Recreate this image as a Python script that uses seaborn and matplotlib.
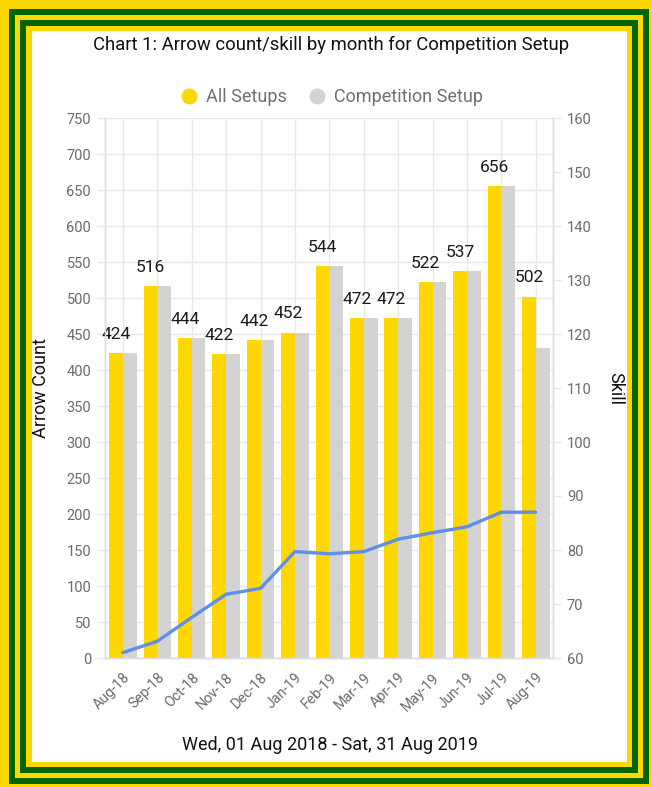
import pandas as pd
import matplotlib.pyplot as plt
import seaborn as sns
from matplotlib.lines import Line2D
from matplotlib.patches import Rectangle

months = ["Aug-18", "Sep-18", "Oct-18", "Nov-18", "Dec-18", "Jan-19", "Feb-19",
          "Mar-19", "Apr-19", "May-19", "Jun-19", "Jul-19", "Aug-19"]
all_setups = [424, 516, 444, 422, 442, 452, 544, 472, 472, 522, 537, 656, 502]
competition = [424, 516, 444, 422, 442, 452, 544, 472, 472, 522, 537, 656, 430]
skill = [61.0, 63.1, 67.5, 71.8, 72.9, 79.7, 79.3, 79.7, 82.0, 83.2, 84.3, 87.0, 87.0]
series_names = ["All Setups", "Competition Setup"]

YELLOW = "#FFD700"
GREY = "#D3D3D3"
GREEN = "#006400"
BLUE = "#5F8FE6"
TICK_GREY = "#6b6b6b"
GRID = "#e8e8e8"

sns.set_theme(style="white")
plt.rcParams["font.family"] = ["Roboto", "DejaVu Sans"]

W, H = 652, 787
fig = plt.figure(figsize=(W / 100, H / 100), dpi=100)
fig.patch.set_facecolor(YELLOW)

# nested yellow / green frame, in pixel boxes
frame = [
    (9, 9, 649, 784, GREEN),
    (15, 15, 643, 778, YELLOW),
    (20, 20, 638, 773, GREEN),
    (26, 26, 632, 767, YELLOW),
    (32, 31, 627, 762, "white"),
]
for x0, y0, x1, y1, c in frame:
    fig.add_artist(Rectangle((x0 / W, 1 - y1 / H), (x1 - x0) / W, (y1 - y0) / H,
                             transform=fig.transFigure, facecolor=c,
                             edgecolor="none", zorder=0))

ax = fig.add_axes([105 / W, 1 - 658 / H, 448 / W, 540 / H])
ax.set_facecolor("none")

df = pd.DataFrame({
    "month": months * 2,
    "count": all_setups + competition,
    "series": [series_names[0]] * len(months) + [series_names[1]] * len(months),
})

sns.barplot(data=df, x="month", y="count", hue="series", palette=[YELLOW, GREY],
            saturation=1, linewidth=0, legend=False, ax=ax, zorder=2)
ax.bar_label(ax.containers[0], padding=8, fontsize=12.5, color="#1a1a1a")

ax.set_ylim(0, 750)
ax.set_yticks(range(0, 751, 50))
ax.set_xlim(-0.52, 12.5)
ax.grid(True, color=GRID, lw=1, zorder=0)
ax.set_axisbelow(True)
ax.set_xlabel("")
ax.set_ylabel("Arrow Count", fontsize=13, color="#111111")
ax.yaxis.set_label_coords(-0.123, 0.5)
ax.tick_params(axis="both", colors=GRID, labelcolor=TICK_GREY, length=6, width=1)
ax.tick_params(axis="y", labelsize=10.5, pad=4)
ax.tick_params(axis="x", labelsize=10.3, pad=3)
plt.setp(ax.get_xticklabels(), rotation=45, ha="right", rotation_mode="anchor")

ax2 = ax.twinx()
sns.lineplot(x=list(range(len(months))), y=skill, ax=ax2, color=BLUE, lw=2.4,
             zorder=3)
ax2.set_ylim(60, 160)
ax2.set_yticks(range(60, 161, 10))
ax2.set_ylabel("Skill", fontsize=13, color="#111111", rotation=270)
ax2.yaxis.set_label_coords(1.16, 0.5)
ax2.tick_params(axis="y", colors=GRID, labelcolor=TICK_GREY, length=6,
                width=1, labelsize=10.5, pad=4)
ax2.grid(False)

for a in (ax, ax2):
    a.spines["top"].set_visible(False)
    for s in ("left", "right", "bottom"):
        a.spines[s].set_color("#dcdcdc")
        a.spines[s].set_linewidth(1)

handles = [Line2D([], [], ls="none", marker="o", markersize=11.5,
                  markerfacecolor=c, markeredgecolor="none")
           for c in (YELLOW, GREY)]
leg = fig.legend(handles, series_names, loc="center", bbox_to_anchor=(0.507, 1 - 97 / H),
                 ncol=2, frameon=False, fontsize=13, handletextpad=0.3,
                 columnspacing=1.1, handlelength=1.2)
for t in leg.get_texts():
    t.set_color("#707070")

fig.text(0.508, 1 - 45 / H, "Chart 1: Arrow count/skill by month for Competition Setup",
         ha="center", va="center", fontsize=13.3, color="#111111")
fig.text(0.506, 1 - 745 / H, "Wed, 01 Aug 2018 - Sat, 31 Aug 2019",
         ha="center", va="center", fontsize=13, color="#111111")

fig.savefig("out.png", dpi=100, facecolor=fig.get_facecolor())
